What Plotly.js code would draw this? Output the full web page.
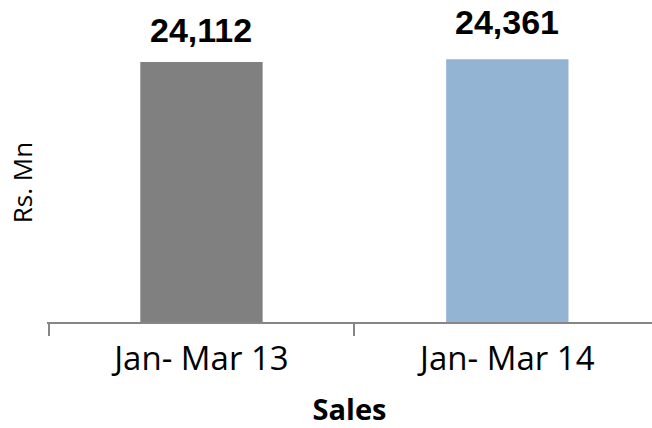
<!DOCTYPE html>
<html><head><meta charset="utf-8">
<script src="https://cdn.plot.ly/plotly-3.0.1.min.js"></script>
<style>html,body{margin:0;padding:0;background:#fff;}</style>
</head><body>
<div id="chart" style="width:652px;height:428px;"></div>
<script>
const categories = ["Jan- Mar 13", "Jan- Mar 14"];
const sales = [24112, 24361];
const barColors = ["#808080", "#94B4D3"];
const valueLabels = ["24,112", "24,361"];

const labelShift = [32, 37];
const trace = {
  type: "bar",
  x: categories,
  y: sales,
  width: 0.4,
  marker: {color: barColors},
  hoverinfo: "skip"
};
const annotations = categories.map((c, i) => ({
  x: c, y: sales[i], xref: "x", yref: "y",
  text: "<b>" + valueLabels[i] + "</b>", showarrow: false,
  yanchor: "middle", yshift: labelShift[i],
  font: {family: "Liberation Sans Narrow, Arial Narrow, sans-serif", size: 34, color: "#000"}
}));
annotations.push({
  xref: "paper", yref: "paper", x: -0.041, y: 0.46, xanchor: "center", yanchor: "middle",
  text: "Rs. Mn", textangle: -90, showarrow: false,
  font: {family: "Open Sans, sans-serif", size: 26, color: "#000"}
});
const layout = {
  width: 652, height: 428,
  margin: {l: 47, r: 0, t: 20, b: 106},
  paper_bgcolor: "#fff", plot_bgcolor: "#fff",
  showlegend: false,
  xaxis: {
    type: "category",
    range: [-0.505, 1.473],
    tickson: "boundaries",
    ticks: "outside", ticklen: 12, tickwidth: 2, tickcolor: "#868686",
    showline: true, linecolor: "#868686", linewidth: 2,
    showgrid: false, zeroline: false,
    ticklabelstandoff: 6,
    tickfont: {family: "Open Sans, sans-serif", size: 33, color: "#000"},
    title: {text: "<b>Sales</b>", standoff: 22, font: {family: "Open Sans, sans-serif", size: 29, color: "#000"}}
  },
  yaxis: {
    range: [0, 28007],
    showticklabels: false, showgrid: false, zeroline: false, showline: false, ticks: ""
  },
  annotations: annotations
};
Plotly.newPlot("chart", [trace], layout, {displayModeBar: false, staticPlot: true});
</script>
</body></html>
